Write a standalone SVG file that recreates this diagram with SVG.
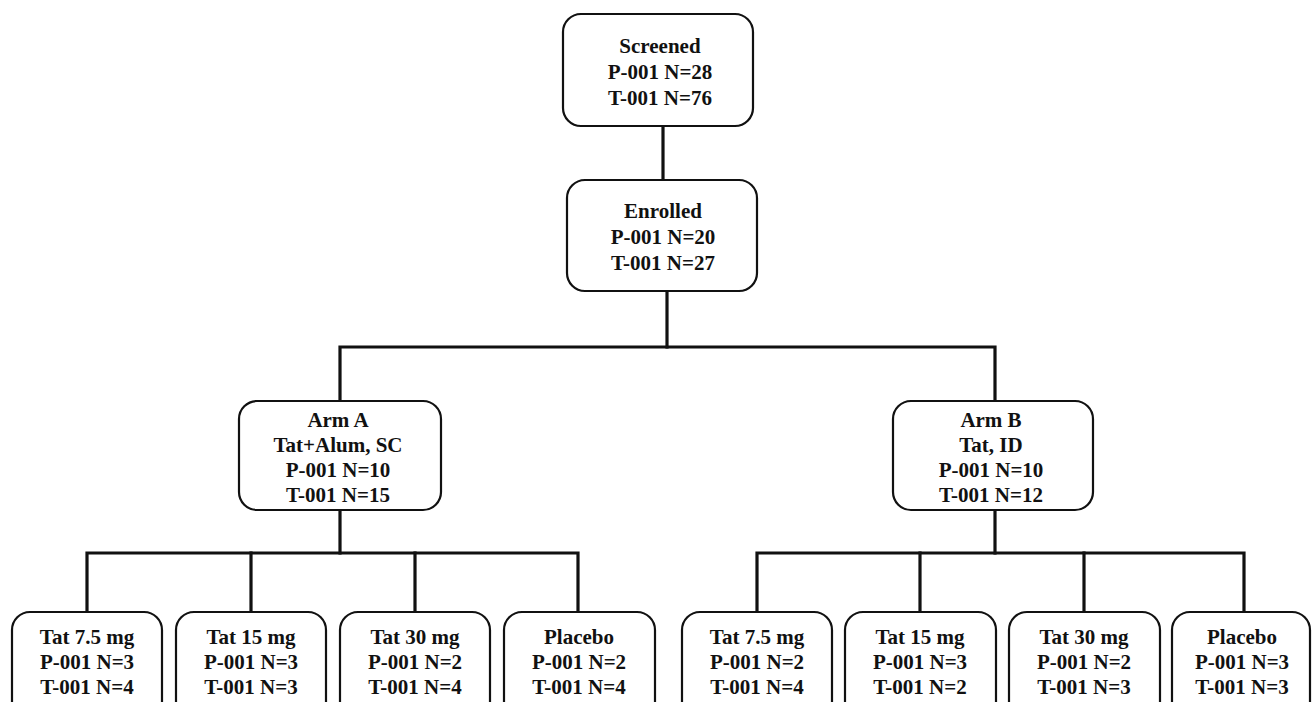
<svg xmlns="http://www.w3.org/2000/svg" width="1314" height="702" viewBox="0 0 1314 702">
<style>
.box{fill:#fff;stroke:#111;stroke-width:2.2}
.ln{fill:none;stroke:#111;stroke-width:3.2;stroke-linecap:square}
text{font-family:"Liberation Serif","Times New Roman",serif;font-weight:bold;font-size:21px;fill:#111;text-anchor:middle}
</style>
<rect width="1314" height="702" fill="#fff"/>
<g id="connectors">
<path class="ln" d="M663 126V180"/>
<path class="ln" d="M667 291V347"/>
<path class="ln" d="M340 401V347H995V401"/>
<path class="ln" d="M340 510V553"/>
<path class="ln" d="M87 612V553H578V612"/>
<path class="ln" d="M251 553V612"/>
<path class="ln" d="M415 553V612"/>
<path class="ln" d="M995 510V553"/>
<path class="ln" d="M757 612V553H1244V612"/>
<path class="ln" d="M920 553V612"/>
<path class="ln" d="M1084 553V612"/>
</g>
<g id="screened">
<rect class="box" x="563" y="14" width="190" height="112" rx="18"/>
<text x="660" y="53">Screened</text>
<text x="660" y="79">P-001 N=28</text>
<text x="660" y="105">T-001 N=76</text>
</g>
<g id="enrolled">
<rect class="box" x="567" y="180" width="190" height="111" rx="18"/>
<text x="663" y="218">Enrolled</text>
<text x="663" y="244">P-001 N=20</text>
<text x="663" y="270">T-001 N=27</text>
</g>
<g id="armA">
<rect class="box" x="239" y="401" width="202" height="109" rx="18"/>
<text x="338" y="427">Arm A</text>
<text x="338" y="452">Tat+Alum, SC</text>
<text x="338" y="477">P-001 N=10</text>
<text x="338" y="502">T-001 N=15</text>
</g>
<g id="armB">
<rect class="box" x="893" y="401" width="200" height="109" rx="18"/>
<text x="991" y="427">Arm B</text>
<text x="991" y="452">Tat, ID</text>
<text x="991" y="477">P-001 N=10</text>
<text x="991" y="502">T-001 N=12</text>
</g>
<g id="a1">
<rect class="box" x="12" y="612" width="150" height="110" rx="18"/>
<text x="87" y="644">Tat 7.5 mg</text>
<text x="87" y="669">P-001 N=3</text>
<text x="87" y="694">T-001 N=4</text>
</g>
<g id="a2">
<rect class="box" x="176" y="612" width="150" height="110" rx="18"/>
<text x="251" y="644">Tat 15 mg</text>
<text x="251" y="669">P-001 N=3</text>
<text x="251" y="694">T-001 N=3</text>
</g>
<g id="a3">
<rect class="box" x="340" y="612" width="150" height="110" rx="18"/>
<text x="415" y="644">Tat 30 mg</text>
<text x="415" y="669">P-001 N=2</text>
<text x="415" y="694">T-001 N=4</text>
</g>
<g id="a4">
<rect class="box" x="504" y="612" width="151" height="110" rx="18"/>
<text x="579" y="644">Placebo</text>
<text x="579" y="669">P-001 N=2</text>
<text x="579" y="694">T-001 N=4</text>
</g>
<g id="b1">
<rect class="box" x="682" y="612" width="150" height="110" rx="18"/>
<text x="757" y="644">Tat 7.5 mg</text>
<text x="757" y="669">P-001 N=2</text>
<text x="757" y="694">T-001 N=4</text>
</g>
<g id="b2">
<rect class="box" x="845" y="612" width="151" height="110" rx="18"/>
<text x="920" y="644">Tat 15 mg</text>
<text x="920" y="669">P-001 N=3</text>
<text x="920" y="694">T-001 N=2</text>
</g>
<g id="b3">
<rect class="box" x="1009" y="612" width="151" height="110" rx="18"/>
<text x="1084" y="644">Tat 30 mg</text>
<text x="1084" y="669">P-001 N=2</text>
<text x="1084" y="694">T-001 N=3</text>
</g>
<g id="b4">
<rect class="box" x="1172" y="612" width="138" height="110" rx="18"/>
<text x="1242" y="644">Placebo</text>
<text x="1242" y="669">P-001 N=3</text>
<text x="1242" y="694">T-001 N=3</text>
</g>
</svg>
